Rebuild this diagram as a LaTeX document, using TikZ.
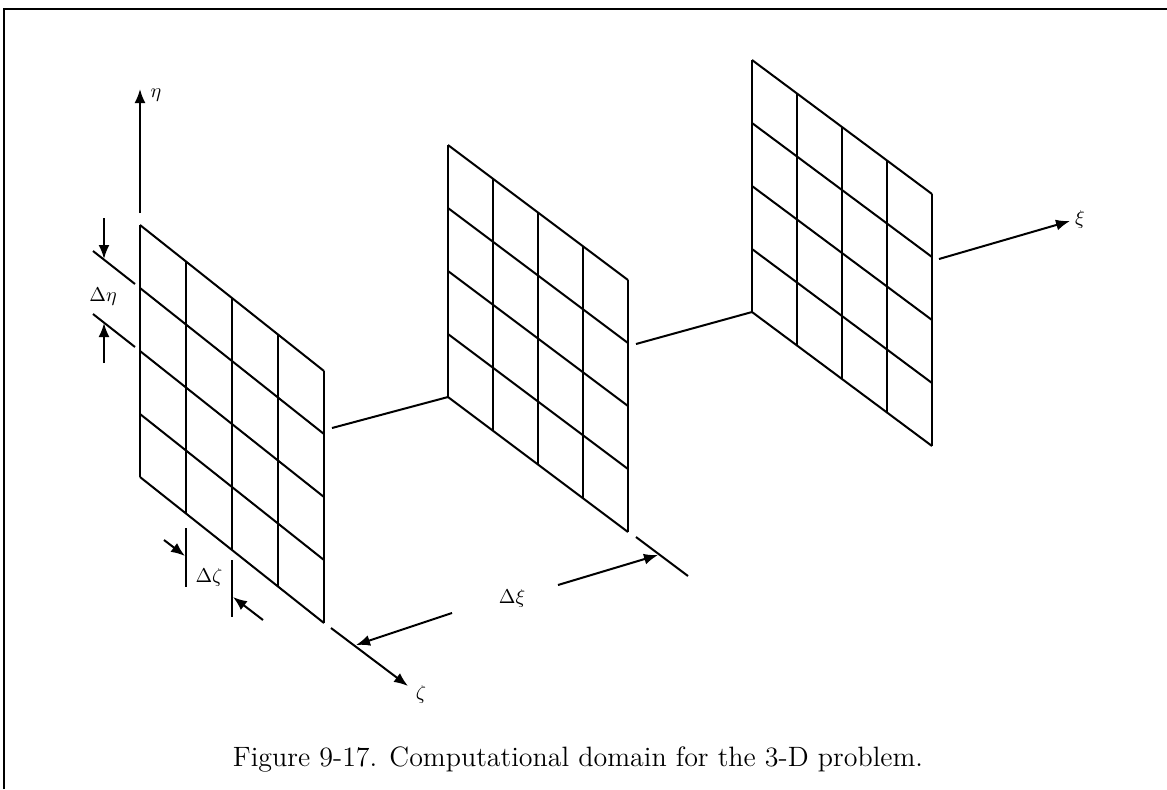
\documentclass[tikz,border=0pt]{standalone}
\usepackage{amsmath}
\usepackage{amssymb}
\usepackage{tikz}
\usetikzlibrary{arrows.meta}

\begin{document}
\begin{tikzpicture}[x=0.5pt, y=-0.5pt, line width=1pt,
    >={Latex[length=7pt,width=5.5pt]},
    lbl/.style={font=\fontsize{10}{12}\selectfont, inner sep=1pt}]
    \useasboundingbox (0,0) rectangle (1167,789);

    % Frame
    \draw[line width=1.1pt] (4,789) -- (4,9) -- (1167,9);

    % Grid planes
    \foreach \ox/\oy/\w/\d in {140/225/184/146, 448/145/180/135, 752/60/180/134} {
        \foreach \i in {0,...,4} {
            \draw (\ox+\i*\w/4, \oy+\i*\d/4) -- ++(0,252);
            \draw (\ox, \oy+\i*63) -- ++(\w,\d);
        }
    }

    % xi axis, hidden behind the planes
    \draw (332,428) -- (448,397);
    \draw (636,344) -- (752,312);
    \draw[->] (939,259) -- (1070,221);
    \node[lbl, anchor=west] (xi) at (1072,219) {$\xi$};

    % eta axis
    \draw[->] (140,213) -- (140,89);
    \node[lbl] (eta) at (156,95) {$\eta$};

    % zeta axis
    \draw[->] (331,628) -- (408,686);
    \node[lbl] (zeta) at (421,694) {$\zeta$};

    % Delta eta
    \draw (93,251) -- (135,284);
    \draw (93,314) -- (135,347);
    \draw[->] (104,218) -- (104,259);
    \draw[->] (104,363) -- (104,323);
    \node[lbl] (deta) at (103,297) {$\Delta\eta$};

    % Delta zeta
    \draw (186,528) -- (186,587);
    \draw (232,560) -- (232,617);
    \draw[->] (164,540) -- (185,556);
    \draw[->] (263,620) -- (233,597);
    \node[lbl] (dzeta) at (209,577) {$\Delta\zeta$};

    % Delta xi
    \draw (636,537) -- (688,576);
    \draw[->] (558,585) -- (658,555);
    \draw[->] (452,613) -- (356,645);
    \node[lbl] (dxi) at (512,598) {$\Delta\xi$};

    % Caption
    \node[font=\fontsize{14}{16}\selectfont, anchor=base] (caption) at (578,766)
        {Figure 9-17. Computational domain for the 3-D problem.};
\end{tikzpicture}
\end{document}
